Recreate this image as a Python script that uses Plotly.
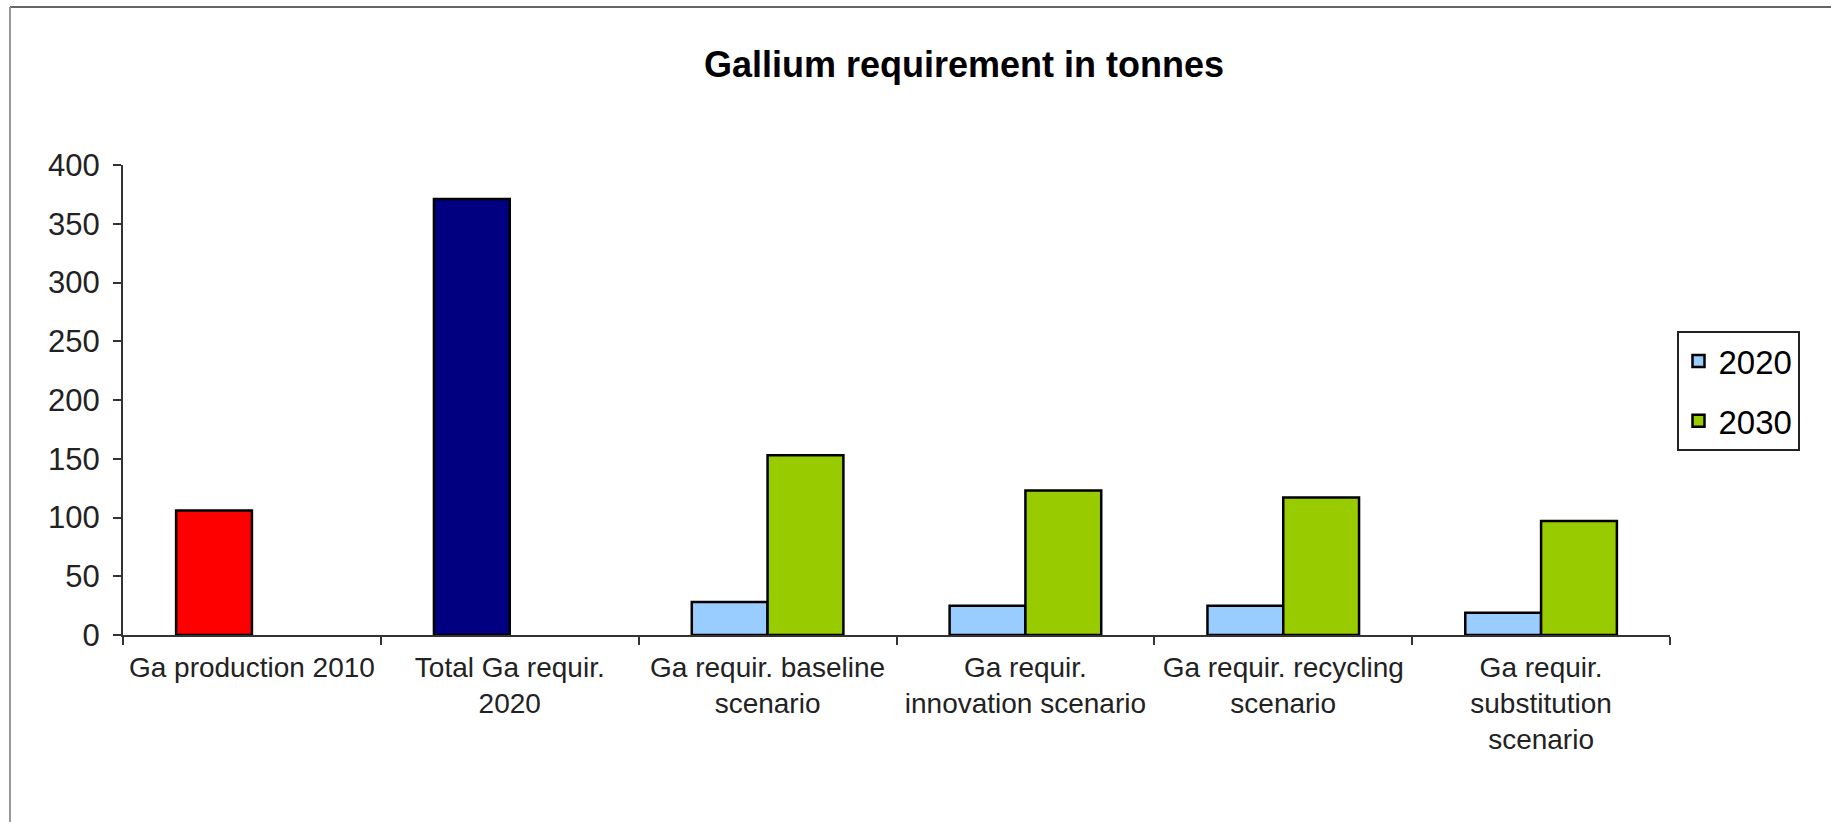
import plotly.graph_objects as go

categories = [
    "Ga production 2010",
    "Total Ga requir.<br>2020",
    "Ga requir. baseline<br>scenario",
    "Ga requir.<br>innovation scenario",
    "Ga requir. recycling<br>scenario",
    "Ga requir.<br>substitution<br>scenario",
]
production_2010 = [106]
total_requir_2020 = [371]
scenario_2020 = [28, 25, 25, 19]
scenario_2030 = [153, 123, 117, 97]

W, H = 1831, 822
ML, MR, MT, MB = 123, 161, 165, 187
FONT = "Liberation Sans, Arial, sans-serif"
BW = 0.294
line = dict(color="black", width=2.5)

fig = go.Figure()
fig.add_trace(go.Bar(x=categories[:1], y=production_2010, offset=-BW, width=BW,
                     marker=dict(color="#FF0000", line=line), showlegend=False))
fig.add_trace(go.Bar(x=categories[1:2], y=total_requir_2020, offset=-BW, width=BW,
                     marker=dict(color="#000080", line=line), showlegend=False))
fig.add_trace(go.Bar(x=categories[2:], y=scenario_2020, name="2020", offset=-BW, width=BW,
                     legendgroup="a", marker=dict(color="#99CCFF", line=line)))
fig.add_trace(go.Bar(x=categories[2:], y=scenario_2030, name="2030", offset=0, width=BW,
                     legendgroup="b", marker=dict(color="#99CC00", line=line)))

pw = W - ML - MR
ph = H - MT - MB
def px(x):
    return (x - ML) / pw
def py(y):
    return (H - MB - y) / ph

fig.update_layout(
    width=W, height=H,
    margin=dict(l=ML, r=MR, t=MT, b=MB),
    paper_bgcolor="white", plot_bgcolor="white",
    barmode="overlay",
    font=dict(family=FONT, size=28, color="#222"),
    title=dict(text="<b>Gallium requirement in tonnes</b>", x=964 / W, xref="container",
               xanchor="center", y=1 - 64 / H, yref="container", yanchor="middle",
               font=dict(family=FONT, size=36, color="black")),
    xaxis=dict(type="category", categoryorder="array", categoryarray=categories,
               range=[-0.5, 5.5], showline=True, linecolor="#333", linewidth=2,
               ticks="outside", tickson="boundaries", ticklen=8, tickwidth=2, tickcolor="#333",
               ticklabelstandoff=6,
               showgrid=False, tickfont=dict(size=28, color="#222")),
    yaxis=dict(range=[0, 400], dtick=50, showline=True, linecolor="#333", linewidth=2,
               ticks="outside", ticklen=8, tickwidth=2, tickcolor="#333",
               ticklabelstandoff=7,
               showgrid=False, zeroline=False, tickfont=dict(size=31, color="#222")),
    legend=dict(x=px(1738), y=py(391), xanchor="center", yanchor="middle",
                bordercolor="#222", borderwidth=2, bgcolor="white",
                traceorder="grouped", tracegroupgap=14,
                font=dict(size=33, color="black")),
    shapes=[
        dict(type="line", xref="paper", yref="paper", x0=px(10), x1=px(W), y0=py(7), y1=py(7),
             line=dict(color="#666", width=2)),
        dict(type="line", xref="paper", yref="paper", x0=px(10), x1=px(10), y0=py(7), y1=py(H),
             line=dict(color="#999", width=2)),
    ],
)

fig.write_html("out.html", config={"displayModeBar": False},
               post_script="document.body.style.margin='0';document.body.style.overflow='hidden';")
